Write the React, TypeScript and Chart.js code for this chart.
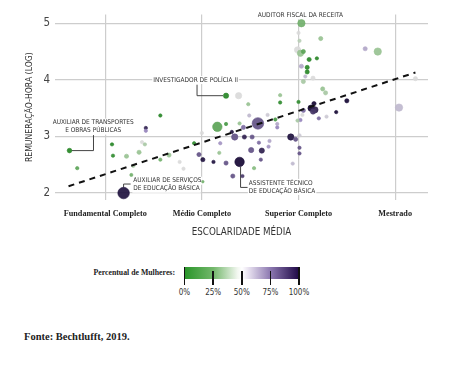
import React, { useEffect, useRef } from "react";
import { Chart, registerables } from "chart.js";

Chart.register(...registerables);

// ---- data ----
const escolaridade = [
  0.63, 0.71, 1.07, 1.08, 1.22, 1.29, 1.27, 1.35, 1.38, 1.41, 1.42, 1.42, 1.57, 1.57, 1.66, 1.77, 1.81, 1.19, 2.01, 1.92,
  2.0, 2.25, 2.38, 2.48, 2.81, 2.81, 2.16, 2.25, 2.39, 2.58, 2.43, 2.31, 2.34, 2.44, 2.52, 2.19, 2.18, 1.97, 2.01, 2.12,
  2.25, 2.39, 2.51, 2.62, 2.69, 2.7, 2.61, 2.32, 2.42, 2.54, 2.94, 3.01, 3.01, 2.92, 2.97, 3.01, 2.78, 2.78, 2.76, 2.68,
  2.59, 3.03, 3.0, 3.01, 2.99, 3.02, 3.05, 3.23, 3.11, 3.19, 3.03, 3.09, 3.09, 3.07, 3.05, 3.15, 3.25, 3.28, 3.69, 3.82,
  4.21, 4.04, 3.0, 3.16, 3.5, 3.39, 3.13, 3.17, 3.15, 3.29, 3.21, 3.05, 3.02, 3.04, 2.99, 2.49,
];
const remuneracao = [
  2.75, 2.44, 2.86, 2.66, 2.65, 2.48, 2.32, 2.72, 2.9, 2.86, 3.15, 3.1, 3.37, 2.59, 2.67, 2.55, 2.43, 2.0, 2.2, 2.88,
  3.06, 3.72, 3.72, 3.57, 3.73, 3.6, 3.17, 3.22, 3.23, 3.23, 3.16, 3.08, 2.99, 2.99, 2.99, 2.88, 2.71, 2.68, 2.59, 2.55,
  2.53, 2.55, 2.76, 2.75, 2.82, 2.92, 2.59, 2.3, 2.3, 2.44, 2.52, 2.8, 2.7, 2.99, 2.95, 3.02, 3.16, 3.22, 3.3, 3.38,
  2.89, 5.0, 4.83, 4.69, 4.53, 4.47, 4.5, 4.73, 4.36, 4.38, 4.24, 4.22, 4.14, 4.06, 3.97, 4.03, 3.84, 3.77, 4.55, 4.5,
  4.02, 3.51, 3.61, 3.58, 3.63, 3.43, 3.5, 3.47, 3.44, 3.35, 3.32, 3.46, 3.29, 3.38, 3.28, 3.37,
];
const percentualMulheres = [
  2, 15, 3, 5, 30, 35, 20, 30, 50, 35, 95, 75, 3, 20, 30, 50, 50, 98, 20, 5,
  50, 3, 50, 30, 30, 5, 15, 10, 30, 85, 80, 98, 85, 95, 85, 70, 30, 85, 98, 98,
  85, 100, 85, 95, 70, 65, 85, 85, 90, 25, 60, 85, 85, 98, 85, 55, 75, 65, 10, 55,
  80, 20, 50, 40, 50, 30, 15, 30, 3, 3, 65, 3, 3, 60, 35, 50, 30, 35, 65, 30,
  50, 60, 5, 100, 100, 100, 100, 95, 90, 55, 80, 80, 75, 50, 35, 60,
];
const servidoresRelativo = [
  2.2, 1.6, 1.6, 1.6, 2, 1.6, 1.5, 2, 1.6, 1.6, 1.6, 1.6, 1.6, 1.6, 2, 1.6, 1.6, 5.5, 1.2, 1.6,
  1.6, 2.5, 3, 1.6, 1.6, 1.6, 4.5, 1.6, 1.6, 5.5, 2, 1.6, 3, 2, 2, 1.6, 1.6, 2, 2, 1.6,
  2, 4.5, 2.5, 2.5, 1.6, 1.6, 1.6, 2, 1.6, 1.6, 1.6, 1.6, 1.6, 3, 2, 1.6, 1.6, 1.6, 1.6, 1.6,
  1.6, 3.5, 1.6, 1.6, 3, 3, 2, 2, 2, 1.6, 2, 2, 2, 1.6, 2, 2, 2, 2, 2, 3.5,
  2, 3.5, 1.6, 2, 2, 1.6, 3, 3, 2.5, 1.6, 1.6, 2, 1.6, 1.6, 1.6, 1.6,
];
const categoriasX = ["Fundamental Completo", "Médio Completo", "Superior Completo", "Mestrado"];
const ticksX = [1, 2, 3, 4];
const ticksY = [2, 3, 4, 5];
const tendenciaX = [0.62, 4.21];
const tendenciaY = [2.12, 4.13];
const legendaValores = [0, 25, 50, 75, 100];

// ---- styles ----
const NARROW = '"Liberation Sans Narrow", "DejaVu Sans Condensed", "Roboto", sans-serif';
const SERIF = '"Liberation Serif", "DejaVu Serif", serif';

const stops: [number, number[]][] = [
  [0, [28, 128, 28]],
  [25, [135, 188, 128]],
  [50, [218, 218, 218]],
  [75, [150, 132, 188]],
  [100, [22, 8, 52]],
];
function cor(p: number, a = 1) {
  for (let i = 0; i < stops.length - 1; i++) {
    const [p0, c0] = stops[i];
    const [p1, c1] = stops[i + 1];
    if (p <= p1) {
      const t = (p - p0) / (p1 - p0);
      const c = c0.map((v, k) => Math.round(v + (c1[k] - v) * t));
      return `rgba(${c[0]},${c[1]},${c[2]},${a})`;
    }
  }
  const c = stops[stops.length - 1][1];
  return `rgba(${c[0]},${c[1]},${c[2]},${a})`;
}

type Anot = {
  i: number;
  linhas: string[];
  dx: number;
  dy: number;
  align: "center" | "left";
  leader?: [number, number][];
};
const anotacoes: Anot[] = [
  { i: 61, linhas: ["AUDITOR FISCAL DA RECEITA"], dx: -1, dy: -8, align: "center" },
  {
    i: 21,
    linhas: ["INVESTIGADOR DE POLÍCIA II"],
    dx: -30.5,
    dy: -15.7,
    align: "center",
    leader: [[-29, -11], [-29, 0], [-3, 0]],
  },
  {
    i: 0,
    linhas: ["AUXILIAR DE TRANSPORTES", "E OBRAS PÚBLICAS"],
    dx: 23.7,
    dy: -28,
    align: "center",
    leader: [[2, 0], [24, 0], [24, -15.5]],
  },
  {
    i: 17,
    linhas: ["AUXILIAR DE SERVIÇOS", "DE EDUCAÇÃO BÁSICA"],
    dx: 9.7,
    dy: -12.3,
    align: "left",
    leader: [[0, -5.5], [0, -9], [7, -9]],
  },
  {
    i: 41,
    linhas: ["ASSISTENTE TÉCNICO", "DE EDUCAÇÃO BÁSICA"],
    dx: 9.3,
    dy: 21,
    align: "left",
    leader: [[1, 5], [1, 25.5], [8, 25.5]],
  },
];

const anotPlugin = {
  id: "anotacoes",
  beforeDatasetsDraw(chart: any) {
    const { ctx, scales } = chart;
    const xs = scales.x;
    const ys = scales.y;
    ctx.save();
    ctx.font = `6.5px ${NARROW}`;
    ctx.textBaseline = "middle";
    ctx.lineWidth = 1;
    ctx.strokeStyle = "#444";
    for (const a of anotacoes) {
      const px = xs.getPixelForValue(escolaridade[a.i]);
      const py = ys.getPixelForValue(remuneracao[a.i]);
      a.linhas.forEach((t, k) => {
        const w = ctx.measureText(t).width;
        const tx = px + a.dx;
        const ty = py + a.dy + k * 8;
        const left = a.align === "left" ? tx : tx - w / 2;
        ctx.fillStyle = "#fff";
        ctx.fillRect(left - 1, ty - 4, w + 2, 8);
        ctx.fillStyle = "#333";
        ctx.fillText(t, left, ty);
      });
      if (a.leader) {
        ctx.beginPath();
        a.leader.forEach(([dx, dy], k) => {
          if (k === 0) ctx.moveTo(px + dx, py + dy);
          else ctx.lineTo(px + dx, py + dy);
        });
        ctx.stroke();
      }
    }
    ctx.restore();
  },
};

function ChartCanvas() {
  const ref = useRef<HTMLCanvasElement | null>(null);
  useEffect(() => {
    if (!ref.current) return;
    const pontos = escolaridade.map((x, i) => ({ x, y: remuneracao[i] }));
    const chart = new Chart(ref.current, {
      type: "scatter",
      data: {
        datasets: [
          {
            type: "line",
            data: tendenciaX.map((x, i) => ({ x, y: tendenciaY[i] })),
            borderColor: "#111",
            borderWidth: 2,
            borderDash: [6, 5],
            pointRadius: 0,
            fill: false,
            order: 0,
          } as any,
          {
            data: pontos,
            pointRadius: servidoresRelativo.map((s) => s * 1.05),
            pointBackgroundColor: percentualMulheres.map((p) => cor(p, 0.92)),
            pointBorderColor: percentualMulheres.map((p) => cor(p, 1)),
            pointBorderWidth: 0.6,
            order: 1,
          },
        ],
      },
      options: {
        responsive: false,
        animation: false,
        devicePixelRatio: 1,
        layout: { padding: { top: 6, right: 13, left: 0, bottom: 0 } },
        plugins: { legend: { display: false }, tooltip: { enabled: false } },
        scales: {
          x: {
            type: "linear",
            min: 0.48,
            max: 4.34,
            afterBuildTicks: (s: any) => {
              s.ticks = ticksX.map((v) => ({ value: v }));
            },
            afterFit: (s: any) => {
              s.height = 53;
              s.paddingLeft = 0;
              s.paddingRight = 0;
            },
            ticks: {
              callback: (v: any) => categoriasX[ticksX.indexOf(Number(v))] ?? "",
              font: { family: SERIF, size: 8.2, weight: "bold" },
              color: "#222",
              padding: 9,
              maxRotation: 0,
              autoSkip: false,
            },
            grid: { color: "rgb(205,205,205)", lineWidth: 1.2, drawTicks: false },
            border: { display: false },
            title: {
              display: true,
              text: "ESCOLARIDADE MÉDIA",
              font: { family: NARROW, size: 9.7 },
              color: "#333",
              padding: { top: 0, bottom: 15 },
            },
          },
          y: {
            type: "linear",
            min: 1.877,
            max: 5.157,
            afterBuildTicks: (s: any) => {
              s.ticks = ticksY.map((v) => ({ value: v }));
            },
            afterFit: (s: any) => {
              s.width = 47;
              s.paddingTop = 0;
              s.paddingBottom = 0;
            },
            ticks: {
              font: { family: NARROW, size: 11.5 },
              color: "#444",
              padding: 5,
            },
            grid: { color: "rgb(205,205,205)", lineWidth: 1.2, drawTicks: false },
            border: { display: false },
            title: {
              display: true,
              text: "REMUNERAÇÃO-HORA (LOG)",
              font: { family: NARROW, size: 8.6 },
              color: "#333",
              padding: { top: 17, bottom: 0 },
            },
          },
        },
      },
      plugins: [anotPlugin],
    });
    return () => chart.destroy();
  }, []);
  return <canvas ref={ref} width={433} height={245} style={{ position: "absolute", left: 0, top: 0 }} />;
}

export default function App() {
  const barLeft = 176.5;
  const barWidth = 114.5;
  return (
    <div style={{ position: "relative", width: 433, height: 369 }}>
      <ChartCanvas />
      <div
        style={{
          position: "absolute",
          left: 0,
          width: 167,
          top: 260,
          height: 10,
          lineHeight: "10px",
          textAlign: "right",
          font: `bold 7.8px ${SERIF}`,
          color: "#222",
          whiteSpace: "nowrap",
        }}
      >
        Percentual de Mulheres:
      </div>
      <div
        style={{
          position: "absolute",
          left: barLeft,
          top: 259,
          width: barWidth,
          height: 11.7,
          background:
            "linear-gradient(to right, #2a962a 0%, #74b86c 25%, #f2f7f0 46%, #ffffff 50%, #ebe5f2 55%, #8c78b0 75%, #1e0846 100%)",
        }}
      />
      {legendaValores.map((v) => {
        const x = barLeft + (barWidth * v) / 100;
        const edge = v === 0 || v === 100;
        return (
          <React.Fragment key={v}>
            <div
              style={{
                position: "absolute",
                left: x - 0.75,
                top: edge ? 259 : 263.3,
                width: 1.5,
                height: edge ? 18 : 14,
                background: "#111",
              }}
            />
            <div
              style={{
                position: "absolute",
                left: x - 20,
                width: 40,
                top: 279.5,
                height: 10,
                lineHeight: "10px",
                textAlign: "center",
                font: `8px ${NARROW}`,
                color: "#333",
              }}
            >
              {v}%
            </div>
          </React.Fragment>
        );
      })}
      <div
        style={{
          position: "absolute",
          left: 16,
          top: 323,
          height: 12,
          lineHeight: "12px",
          font: `bold 10.5px ${SERIF}`,
          color: "#222",
          whiteSpace: "nowrap",
        }}
      >
        Fonte: Bechtlufft, 2019.
      </div>
    </div>
  );
}
